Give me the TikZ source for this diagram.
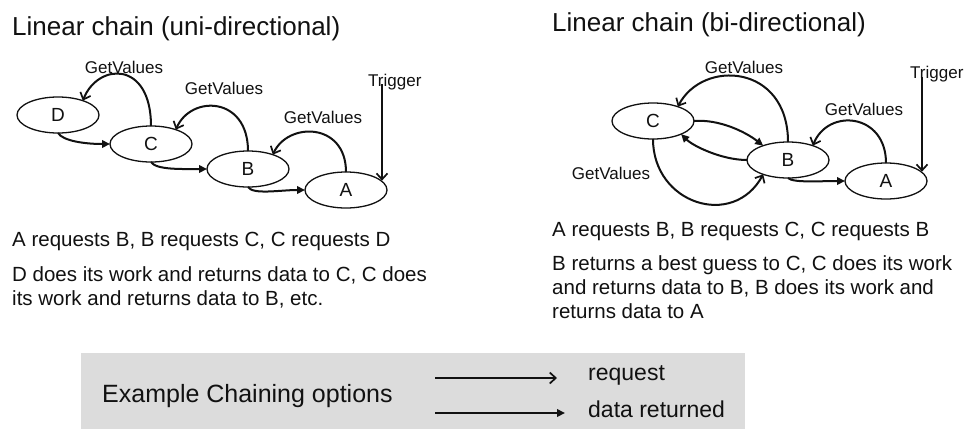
\documentclass[tikz,border=0pt]{standalone}
\usepackage{fontspec}
\setmainfont{Liberation Sans}
\usetikzlibrary{arrows.meta,shapes.geometric}
\definecolor{ink}{HTML}{111111}
\definecolor{legendgray}{HTML}{DCDCDC}
\tikzset{
  ell/.style={ellipse, draw=ink, line width=1.3pt, minimum width=82pt, minimum height=36pt, inner sep=0pt, outer sep=0pt, font=\fontsize{19}{21}\selectfont, text=ink},
  req/.style={draw=ink, line width=2pt, -{Straight Barb[length=6pt,width=11pt,line width=1.7pt]}},
  ret/.style={draw=ink, line width=2pt, -{Triangle[length=8pt,width=7.5pt]}},
  lbl/.style={anchor=base, inner sep=0pt, font=\fontsize{17}{19}\selectfont, text=ink},
  titletext/.style={anchor=base west, inner sep=0pt, font=\fontsize{26}{30}\selectfont, text=ink},
  body/.style={anchor=base west, inner sep=0pt, font=\fontsize{20.5}{24}\selectfont, text=ink},
  legtext/.style={anchor=base west, inner sep=0pt, font=\fontsize{23}{26}\selectfont, text=ink},
}
\begin{document}
\begin{tikzpicture}[x=1pt,y=-1pt]
\useasboundingbox (0,0) rectangle (964,429);
\fill[white] (0,0) rectangle (964,429);

% ---------- left: uni-directional ----------
\node[titletext] (t1) at (12,35) {Linear chain (uni-directional)};
\node[ell] (D1) at (58,115) {D};
\node[ell] (C1) at (151,144) {C};
\node[ell] (B1) at (248,169) {B};
\node[ell] (A1) at (346,190) {A};

\draw[req] (C1.north) .. controls +(0,-66) and +(15,-38) .. (D1.30);
\node[lbl] (g1) at (124,73) {GetValues};
\draw[req] (B1.north) .. controls +(0,-55) and +(15,-35) .. (C1.30);
\node[lbl] (g2) at (224,94) {GetValues};
\draw[req] (A1.north) .. controls +(0,-50) and +(15,-33) .. (B1.30);
\node[lbl] (g3) at (323,123) {GetValues};

\node[lbl, anchor=base west] (tr1) at (368,86) {Trigger};
\coordinate (tr1s) at (382,84);
\draw[req] (tr1s) -- (tr1s |- A1.15);

\draw[ret] (D1.south) .. controls +(5,8) and +(-25,0) .. (C1.west);
\draw[ret] (C1.south) .. controls +(5,8) and +(-25,0) .. (B1.west);
\draw[ret] (B1.south) .. controls +(5,8) and +(-25,0) .. (A1.west);

\node[body] (l1) at (12,246) {A requests B, B requests C, C requests D};
\node[body] (l2) at (12,281) {D does its work and returns data to C, C does};
\node[body] (l3) at (12,305) {its work and returns data to B, etc.};

% ---------- right: bi-directional ----------
\node[titletext] (t2) at (552,31) {Linear chain (bi-directional)};
\node[ell] (C2) at (653,121) {C};
\node[ell] (B2) at (788,160) {B};
\node[ell] (A2) at (886,181) {A};

\draw[req] (B2.north) .. controls +(0,-78) and +(25,-48) .. (C2.30);
\node[lbl] (g4) at (744,73) {GetValues};
\draw[req] (A2.north) .. controls +(0,-50) and +(15,-38) .. (B2.30);
\node[lbl] (g5) at (864,115) {GetValues};
\draw[req] (C2.south) .. controls +(0,65) and +(-30,55) .. (B2.-150);
\node[lbl] (g6) at (611,179) {GetValues};

\draw[ret] (C2.east) .. controls +(25,-2) and +(-18,-14) .. (B2.150);
\draw[ret] (B2.west) .. controls +(-25,0) and +(12,12) .. (C2.-25);
\draw[ret] (B2.south) .. controls +(5,5) and +(-25,0) .. (A2.west);

\node[lbl, anchor=base west] (tr2) at (910,78) {Trigger};
\coordinate (tr2s) at (922,77);
\draw[req] (tr2s) -- (tr2s |- A2.15);

\node[body] (r1) at (552,236) {A requests B, B requests C, C requests B};
\node[body] (r2) at (552,270) {B returns a best guess to C, C does its work};
\node[body] (r3) at (552,294) {and returns data to B, B does its work and};
\node[body] (r4) at (552,318) {returns data to A};

% ---------- legend ----------
\fill[legendgray] (81,353) rectangle (745,429);
\node[legtext, font=\fontsize{25}{28}\selectfont] (ex) at (102,402) {Example Chaining options};
\coordinate (rq1) at (435,378);
\coordinate (rq2) at (557,378);
\draw[req, line width=2.2pt] (rq1) -- (rq2);
\node[legtext] (rql) at (588,380) {request};
\coordinate (dr1) at (435,413);
\coordinate (dr2) at (565,413);
\draw[ret, line width=2.2pt] (dr1) -- (dr2);
\node[legtext] (drl) at (588,417) {data returned};
\end{tikzpicture}
\end{document}
